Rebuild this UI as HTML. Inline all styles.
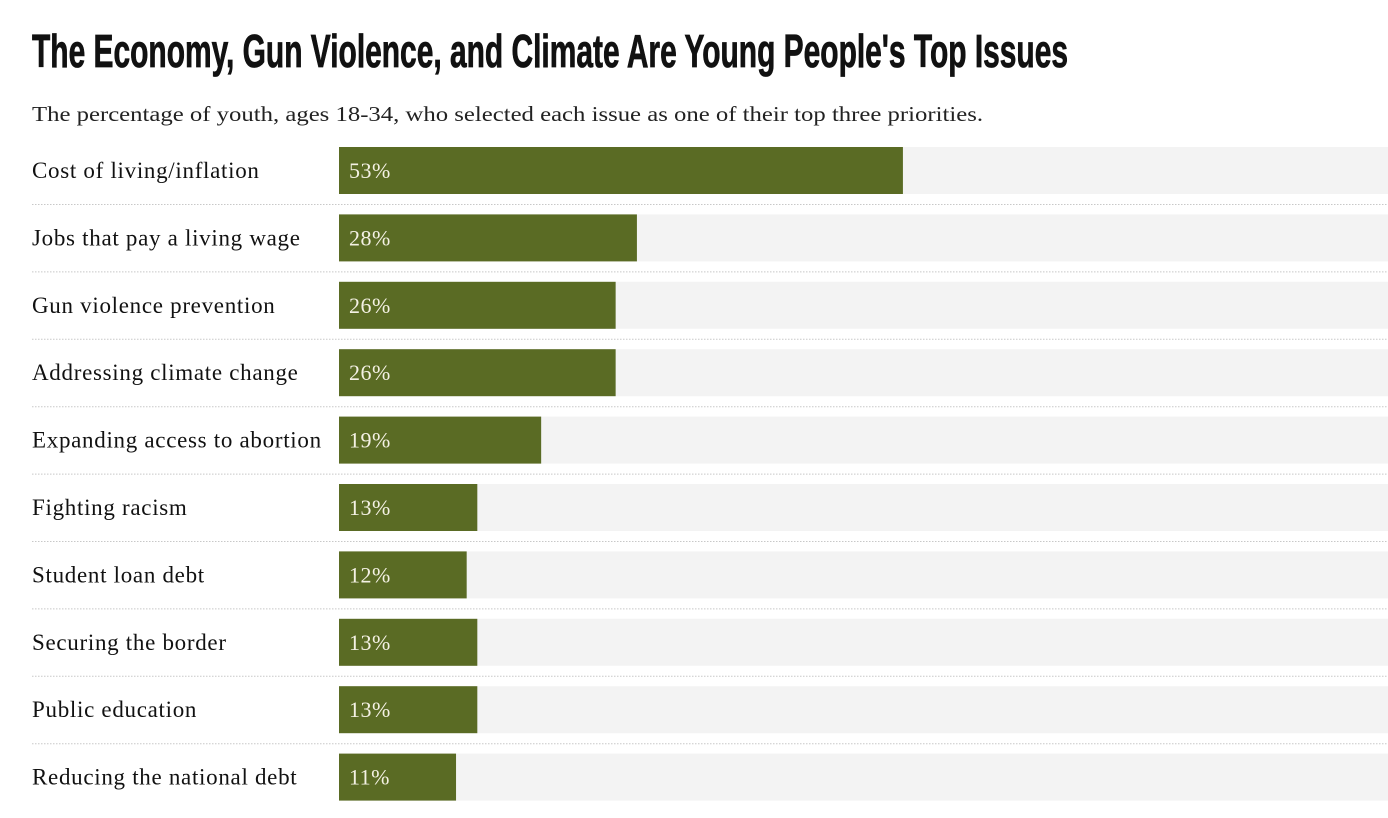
<!DOCTYPE html>
<html><head><meta charset="utf-8"><style>
html,body{margin:0;padding:0;background:#fff;}
svg{display:block;}
</style></head><body>
<svg id="chart" width="1388" height="818" xmlns="http://www.w3.org/2000/svg">
<text x="32" y="67" font-family="'Liberation Sans Narrow','Liberation Sans',sans-serif" font-weight="bold" font-size="46" fill="#111" stroke="#111" stroke-width="0.8" textLength="1036" lengthAdjust="spacingAndGlyphs">The Economy, Gun Violence, and Climate Are Young People's Top Issues</text>
<text x="32" y="121" font-family="'Liberation Serif',serif" font-size="21.5" fill="#222" textLength="951" lengthAdjust="spacingAndGlyphs">The percentage of youth, ages 18-34, who selected each issue as one of their top three priorities.</text>
<g id="rows"></g>
</svg>
<script>
const categories = ["Cost of living/inflation","Jobs that pay a living wage","Gun violence prevention","Addressing climate change","Expanding access to abortion","Fighting racism","Student loan debt","Securing the border","Public education","Reducing the national debt"];
const values = [53,28,26,26,19,13,12,13,13,11];
const valueLabels = ["53%","28%","26%","26%","19%","13%","12%","13%","13%","11%"];

const x0 = 339, pxPer = 10.64, top0 = 147, pitch = 67.4, barH = 47;
const xScale = v => v * pxPer;
const yScale = i => top0 + i * pitch;
const ns = "http://www.w3.org/2000/svg";
const g = document.getElementById("rows");
function mk(tag, attrs){const e=document.createElementNS(ns,tag);for(const k in attrs)e.setAttribute(k,attrs[k]);g.appendChild(e);return e;}
categories.forEach((c,i)=>{
  const y = yScale(i);
  const track = mk("rect",{x:x0,y:y,width:1388-x0,height:barH,fill:"#f3f3f3"});
  
  
  const bar = mk("rect",{x:x0,y:y,width:xScale(values[i]),height:barH,fill:"#5a6b24"});
  
  
  const lab = mk("text",{x:32,y:y+31,"font-family":"'Liberation Serif',serif","font-size":"23","letter-spacing":"0.7",fill:"#111"});
  lab.textContent = c;
  
  
  const vl = mk("text",{x:349,y:y+31,"font-family":"'Liberation Serif',serif","font-size":"22","letter-spacing":"0.5",fill:"#f4f1e4"});
  vl.textContent = valueLabels[i];
  
  
  if(i<categories.length-1){
    const ln = mk("line",{x1:32,x2:1388,y1:y+barH+10.5,y2:y+barH+10.5,stroke:"#c8c8c8","stroke-width":"1","stroke-dasharray":"1.5,1.5"});
    
    
  }
});
</script>
</body></html>
